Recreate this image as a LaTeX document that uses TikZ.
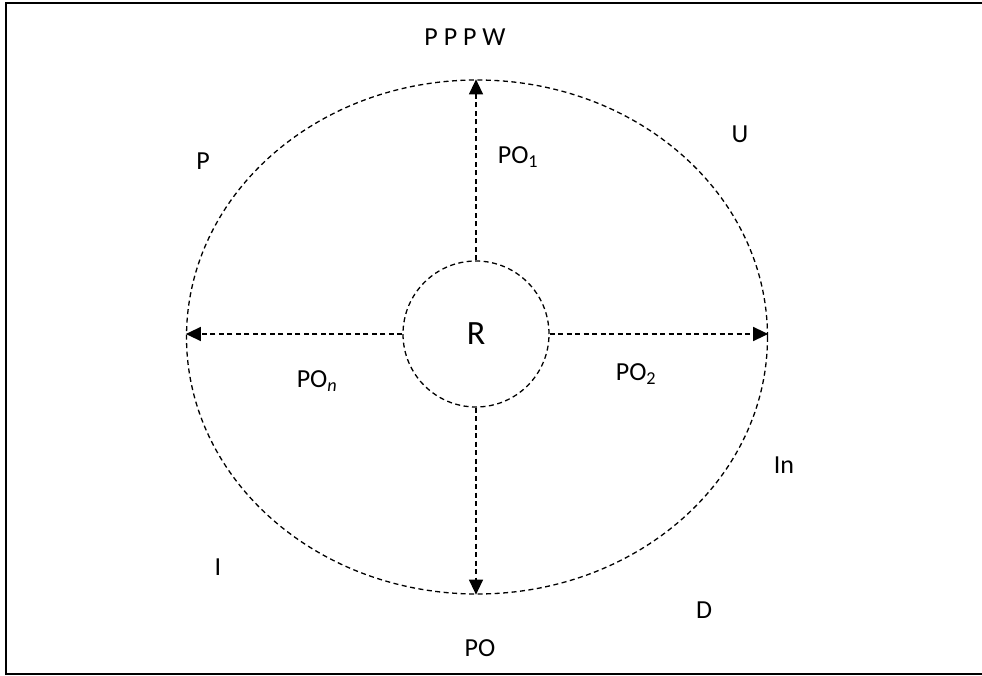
\documentclass[tikz,border=0pt]{standalone}
\usepackage{fontspec}
\setmainfont{Carlito}
\usetikzlibrary{shapes.geometric, arrows.meta, positioning}
\tikzset{
    dashline/.style={line width=1.3pt, dash pattern=on 5pt off 3.5pt},
    flow/.style={dashline, -{Triangle[length=15pt, width=14pt]}},
    label/.style={font=\fontsize{26}{30}\selectfont, inner sep=0pt}
}

\begin{document}
\begin{tikzpicture}[x=1pt, y=-1pt]
        \useasboundingbox (0,0) rectangle (982,676);
        % Frame (right side cut off)
        \draw[line width=2pt] (982,3.5) -- (6,3.5) -- (6,674) -- (982,674);
        
        % Outer ring and core
        \node (ring) [draw, dashline, ellipse, minimum width=581pt, minimum height=514pt, inner sep=0pt] at (477,337) {};
        \node (core) [draw, dashline, circle, minimum size=146pt, inner sep=0pt, font=\fontsize{34}{40}\selectfont] at (476,334) {R};
        
        % Arrows
        \draw[flow] (core.north) -- (core.north |- ring.north);
        \draw[flow] (core.east) -- (core.east -| ring.east);
        \draw[flow] (core.south) -- (core.south |- ring.south);
        \draw[flow] (core.west) -- (core.west -| ring.west);
        
        % Labels
        \node (top) [label] at (465,37) {P P P W};
        \node (bottom) [label] at (480,648) {PO};
        \node (po1) [label] at (518,157) {PO\textsubscript{1}};
        \node (po2) [label] at (636,374) {PO\textsubscript{2}};
        \node (pon) [label] at (317,381) {PO\textsubscript{\textit{n}}};
        \node (p) [label] at (203,161) {P};
        \node (u) [label] at (740,134) {U};
        \node (in) [label] at (784,465) {In};
        \node (i) [label] at (218,567) {I};
        \node (d) [label] at (704,610) {D};
    \end{tikzpicture}
\end{document}
